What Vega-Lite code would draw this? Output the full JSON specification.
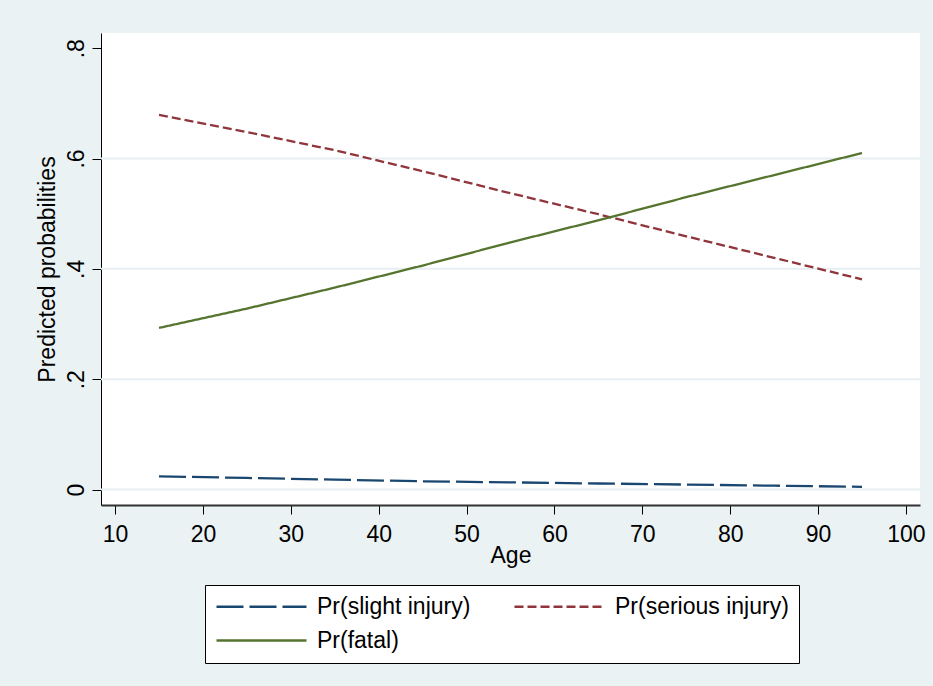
{
  "$schema": "https://vega.github.io/schema/vega-lite/v6.json",
  "width": 819,
  "height": 472,
  "autosize": {"type": "none"},
  "padding": {"left": 101, "top": 33, "right": 13, "bottom": 181},
  "background": "#EAF2F3",
  "config": {
    "font": "Liberation Sans",
    "view": {"fill": "white", "stroke": null},
    "axis": {"labelFont": "Liberation Sans", "titleFont": "Liberation Sans", "labelFontSize": 23, "titleFontSize": 23, "labelColor": "#000", "titleColor": "#000", "titleFontWeight": "normal", "tickColor": "#000", "tickSize": 9, "tickWidth": 1}
  },
  "datasets": {
    "grid": [{"g": 0}, {"g": 0.2}, {"g": 0.4}, {"g": 0.6}],
    "pr": [
      {"age": 15, "series": "Pr(slight injury)", "p": 0.024},
      {"age": 25, "series": "Pr(slight injury)", "p": 0.021},
      {"age": 35, "series": "Pr(slight injury)", "p": 0.018},
      {"age": 45, "series": "Pr(slight injury)", "p": 0.015},
      {"age": 55, "series": "Pr(slight injury)", "p": 0.013},
      {"age": 65, "series": "Pr(slight injury)", "p": 0.011},
      {"age": 75, "series": "Pr(slight injury)", "p": 0.009},
      {"age": 85, "series": "Pr(slight injury)", "p": 0.007},
      {"age": 95, "series": "Pr(slight injury)", "p": 0.005},
      {"age": 15, "series": "Pr(serious injury)", "p": 0.679},
      {"age": 25, "series": "Pr(serious injury)", "p": 0.648},
      {"age": 35, "series": "Pr(serious injury)", "p": 0.615},
      {"age": 45, "series": "Pr(serious injury)", "p": 0.577},
      {"age": 55, "series": "Pr(serious injury)", "p": 0.537},
      {"age": 65, "series": "Pr(serious injury)", "p": 0.499},
      {"age": 75, "series": "Pr(serious injury)", "p": 0.459},
      {"age": 85, "series": "Pr(serious injury)", "p": 0.420},
      {"age": 95, "series": "Pr(serious injury)", "p": 0.381},
      {"age": 15, "series": "Pr(fatal)", "p": 0.293},
      {"age": 25, "series": "Pr(fatal)", "p": 0.328},
      {"age": 35, "series": "Pr(fatal)", "p": 0.366},
      {"age": 45, "series": "Pr(fatal)", "p": 0.406},
      {"age": 55, "series": "Pr(fatal)", "p": 0.448},
      {"age": 65, "series": "Pr(fatal)", "p": 0.488},
      {"age": 75, "series": "Pr(fatal)", "p": 0.530},
      {"age": 85, "series": "Pr(fatal)", "p": 0.570},
      {"age": 95, "series": "Pr(fatal)", "p": 0.610}
    ]
  },
  "layer": [
    {
      "data": {"name": "grid"},
      "mark": {"type": "rule", "color": "#E6EEF1", "strokeWidth": 2},
      "encoding": {
        "y": {
          "field": "g", "type": "quantitative",
          "scale": {"domain": [-0.028, 0.8275], "nice": false, "zero": false},
          "axis": {"values": [0, 0.2, 0.4, 0.6, 0.8], "grid": false, "title": "Predicted probabilities", "labelAngle": -90, "labelAlign": "center", "labelBaseline": "alphabetic", "labelPadding": 9, "titlePadding": 6, "domainColor": "#000", "domainWidth": 1, "labelExpr": "datum.value == 0 ? '0' : replace(format(datum.value, '.1f'), '0.', '.')"}
        }
      }
    },
    {
      "data": {"name": "pr"},
      "mark": {"type": "line", "strokeWidth": 2.3},
      "encoding": {
        "x": {
          "field": "age", "type": "quantitative",
          "scale": {"domain": [8.4, 101.6], "nice": false, "zero": false},
          "axis": {"values": [10, 20, 30, 40, 50, 60, 70, 80, 90, 100], "grid": false, "title": "Age", "labelPadding": 9, "titlePadding": -2, "domainColor": "#333", "domainWidth": 2, "labelFlush": false}
        },
        "y": {
          "field": "p", "type": "quantitative",
          "scale": {"domain": [-0.028, 0.8275], "nice": false, "zero": false},
          "axis": {"values": [0, 0.2, 0.4, 0.6, 0.8], "grid": false, "title": "Predicted probabilities", "labelAngle": -90, "labelAlign": "center", "labelBaseline": "alphabetic", "labelPadding": 9, "titlePadding": 6, "domainColor": "#000", "domainWidth": 1, "labelExpr": "datum.value == 0 ? '0' : replace(format(datum.value, '.1f'), '0.', '.')"}
        },
        "color": {
          "field": "series", "type": "nominal",
          "scale": {"domain": ["Pr(slight injury)", "Pr(serious injury)", "Pr(fatal)"], "range": ["#1A476F", "#90353B", "#55752F"]},
          "legend": {"title": null, "orient": "none", "legendX": 104, "legendY": 552, "direction": "horizontal", "columns": 2, "columnPadding": 42, "rowPadding": 10, "padding": 10, "clipHeight": 23, "strokeColor": "#000", "fillColor": "white", "symbolType": "stroke", "symbolSize": 8100, "symbolStrokeWidth": 2.3, "labelFontSize": 23, "labelFont": "Liberation Sans", "labelColor": "#000", "labelOffset": 9, "labelLimit": 400}
        },
        "strokeDash": {
          "field": "series", "type": "nominal",
          "scale": {"domain": ["Pr(slight injury)", "Pr(serious injury)", "Pr(fatal)"], "range": [[27, 6], [9, 4], [1, 0]]},
          "legend": {"title": null, "orient": "none", "legendX": 104, "legendY": 552, "direction": "horizontal", "columns": 2, "columnPadding": 42, "rowPadding": 10, "padding": 10, "clipHeight": 23, "strokeColor": "#000", "fillColor": "white", "symbolType": "stroke", "symbolSize": 8100, "symbolStrokeWidth": 2.3, "labelFontSize": 23, "labelFont": "Liberation Sans", "labelColor": "#000", "labelOffset": 9, "labelLimit": 400}
        }
      }
    }
  ]
}
